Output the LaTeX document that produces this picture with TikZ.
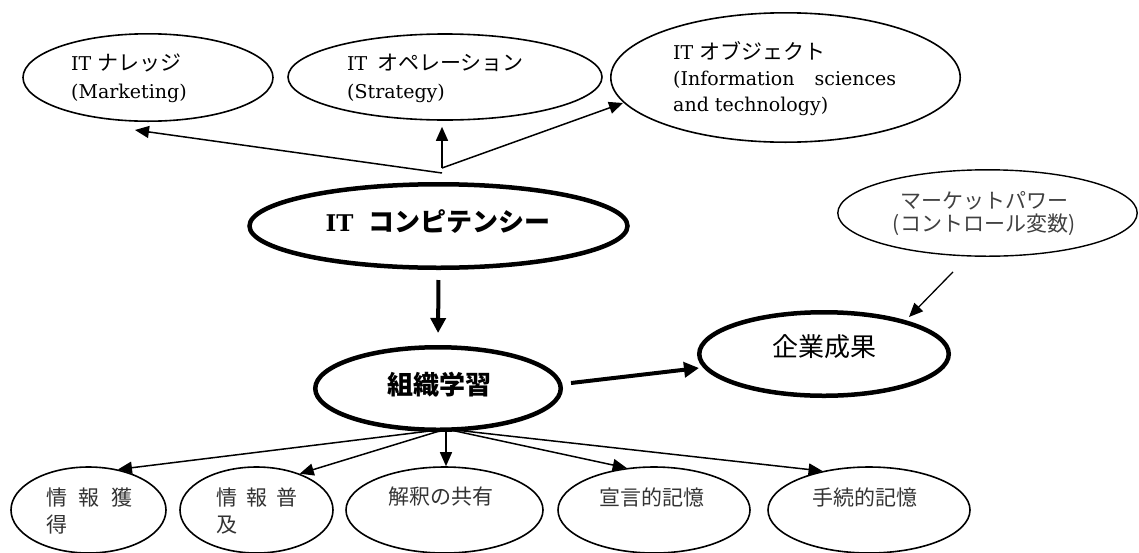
\documentclass[tikz,border=0pt]{standalone}
\usepackage{fontspec}
\setmainfont{DejaVu Serif}
\newfontfamily\jp{Noto Sans CJK JP}
\usetikzlibrary{shapes.geometric,arrows.meta}
\begin{document}
\begin{tikzpicture}[x=1pt,y=-1pt,
  ell/.style={draw, ellipse, inner sep=0pt, line width=1.6pt},
  thickell/.style={draw, ellipse, inner sep=0pt, line width=4.5pt},
  esize/.style 2 args={minimum width=#1, minimum height=#2},
  txt/.style={inner sep=0pt, font=\fontsize{19}{28}\selectfont, align=left, anchor=west},
  btxt/.style={inner sep=0pt, text=black!80, font=\jp\fontsize{21}{27}\selectfont},
  thinarrow/.style={line width=1.5pt, -{Triangle[length=14pt,width=12pt]}},
  fatarrow/.style={line width=4pt, -{Triangle[length=15pt,width=15pt]}},
]
\useasboundingbox (0,0) rectangle (1139,552);

% ellipses
\node[ell, esize={250pt}{87.4pt}] (kn) at (148,77.5) {};
\node[ell, esize={314pt}{86pt}] (op) at (445,77) {};
\node[ell, esize={349.4pt}{129.4pt}] (ob) at (785.5,77.5) {};
\node[thickell, esize={378pt}{83.5pt}] (cp) at (438.5,226) {};
\node[thickell, esize={245.5pt}{82.5pt}] (ol) at (438,388.5) {};
\node[thickell, esize={249.5pt}{83.5pt}] (ks) at (824,354) {};
\node[ell, line width=1.4pt, esize={299.4pt}{86.4pt}] (mp) at (987.5,213) {};
\node[ell, esize={155pt}{86pt}] (b1) at (88.5,510) {};
\node[ell, esize={153pt}{86pt}] (b2) at (256.5,510) {};
\node[ell, esize={197pt}{86pt}] (b3) at (444.5,510) {};
\node[ell, esize={192pt}{86pt}] (b4) at (654,510) {};
\node[ell, esize={202pt}{86pt}] (b5) at (869,510) {};

% texts
\node[txt] (knt) at (71,78) {IT {\jp\fontsize{21}{28}\selectfont ナレッジ}\\(Marketing)};
\node[txt] (opt) at (347,78) {IT\hspace{10pt}{\jp\fontsize{21}{28}\selectfont オペレーション}\\(Strategy)};
\node[txt, font=\fontsize{19}{26}\selectfont] (obt) at (673,78.5) {IT {\jp\fontsize{21}{26}\selectfont オブジェクト}\\(Information\hspace{20pt}sciences\\and technology)};
\node[inner sep=0pt] (cpt) at (438,222) {\fontsize{23}{23}\selectfont\bfseries IT\hspace{15pt}{\jp\fontsize{26}{26}\selectfont コンピテンシー}};
\node[inner sep=0pt] (olt) at (439.5,385) {\jp\bfseries\fontsize{26}{26}\selectfont 組織学習};
\node[inner sep=0pt] (kst) at (824.5,347) {\jp\fontsize{26}{26}\selectfont 企業成果};
\node[inner sep=0pt, align=center, text=black!75, font=\jp\fontsize{21}{23}\selectfont] (mpt) at (984,214) {マーケットパワー\\(コントロール変数)};
\node[btxt, align=left, anchor=west] (b1t) at (46,511) {情\hspace{11.5pt}報\hspace{11.5pt}獲\\得};
\node[btxt, align=left, anchor=west] (b2t) at (216,511) {情\hspace{9pt}報\hspace{9pt}普\\及};
\node[btxt] (b3t) at (441,497) {解釈の共有};
\node[btxt] (b4t) at (652,497) {宣言的記憶};
\node[btxt] (b5t) at (865,497) {手続的記憶};

% connectors top
\coordinate (jL) at (442,173);
\coordinate (jU) at (442,168);
\draw[thinarrow] (jL) -- ([shift={(-13pt,-8pt)}]kn.south);
\draw[thinarrow, shorten >=6pt] (jU) -- (jU |- op.south);
\draw[thinarrow] (jU) -- ([shift={(-162.5pt,-25.5pt)}]ob.center);

% main flow
\draw[fatarrow, shorten <=10pt, shorten >=12pt] (cp.south) -- (ol.north);
\draw[fatarrow] ([shift={(8pt,5.5pt)}]ol.east) -- ([shift={(2pt,-14pt)}]ks.west);
\draw[thinarrow, line width=1.3pt] ([shift={(-34.5pt,-15pt)}]mp.south) -- ([shift={(85pt,-7pt)}]ks.north);

% bottom
\coordinate (hub) at (446,429);
\draw[thinarrow] (hub) -- (b1.54);
\draw[thinarrow] (hub) -- (b2.40);
\draw[thinarrow] (hub) -- (hub |- b3.north);
\draw[thinarrow] (hub) -- (b4.123);
\draw[thinarrow] (hub) -- (b5.140);
\end{tikzpicture}
\end{document}
